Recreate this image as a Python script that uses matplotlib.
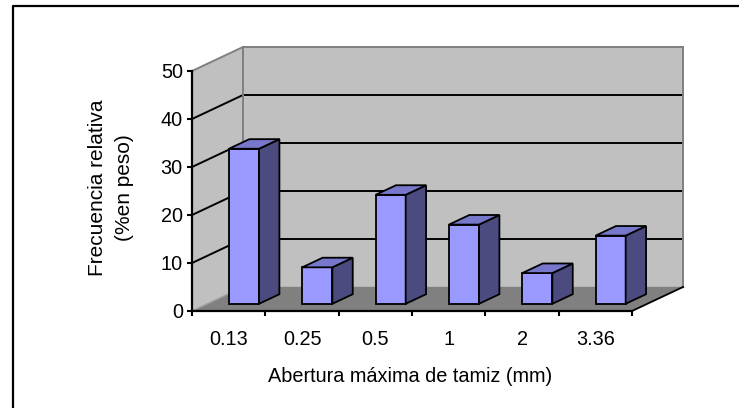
import matplotlib
matplotlib.use("Agg")
import matplotlib.pyplot as plt
from matplotlib.patches import Polygon
from matplotlib.lines import Line2D

# ---- data ----
categories = ["0.13", "0.25", "0.5", "1", "2", "3.36"]
values = [32.3, 7.6, 22.7, 16.5, 6.4, 14.2]
y_ticks = [0, 10, 20, 30, 40, 50]
x_title = "Abertura máxima de tamiz (mm)"
y_title = "Frecuencia relativa\n(%en peso)"

# ---- style ----
W, H, DPI = 739, 408, 100
FONT = "Liberation Sans"
FS = 14.3
FS_Y = 15.0
DX = 51 / 73.33      # depth offset in category units
DY = 5.0             # depth offset in value units
BAR_W = 0.41         # bar width (category units)
F0, FD = 0.3, 0.4    # bar front position / thickness as fraction of depth
FRONT = "#9999FF"
SIDE = "#4B4B80"
TOP = "#7777CC"
WALL = "#C0C0C0"
FLOOR = "#808080"
EDGE = "#808080"

plt.rcParams["font.family"] = [FONT, "DejaVu Sans"]

fig = plt.figure(figsize=(W / DPI, H / DPI), dpi=DPI)
fig.patch.set_facecolor("white")

# front plane: x 192..632 px, y(0)=311 px, y(50)=71 px
ax = fig.add_axes([192 / W, (H - 311) / H, (632 - 192) / W, 240 / H])
ax.set_facecolor("none")
n = len(categories)
ymax = y_ticks[-1]
ax.set_xlim(0, n)
ax.set_ylim(0, ymax)

def poly(pts, fc, ec="none", lw=0.0, z=1):
    p = Polygon(pts, closed=True, facecolor=fc, edgecolor=ec, linewidth=lw,
                clip_on=False, zorder=z, joinstyle="miter")
    ax.add_patch(p)

def line(xs, ys, c, lw, z=2):
    ax.add_line(Line2D(xs, ys, color=c, linewidth=lw, clip_on=False, zorder=z))

# walls and floor
poly([(DX, DY), (n + DX, DY), (n + DX, ymax + DY), (DX, ymax + DY)], WALL, z=0.5)
poly([(0, 0), (DX, DY), (DX, ymax + DY), (0, ymax)], WALL, z=0.5)
poly([(0, 0), (n, 0), (n + DX, DY), (DX, DY)], FLOOR, z=0.6)

# gridlines
for v in y_ticks[1:-1]:
    line([DX, n + DX], [v + DY, v + DY], "black", 1.4)
    line([0, DX], [v, v + DY], "black", 1.4)

# wall edges
line([DX, n + DX], [ymax + DY, ymax + DY], EDGE, 1.4)
line([0, DX], [ymax, ymax + DY], EDGE, 1.4)
line([DX, DX], [DY, ymax + DY], EDGE, 1.4)
line([n + DX, n + DX], [DY, ymax + DY], EDGE, 1.4)
line([DX, n + DX], [DY, DY], EDGE, 1.0)
line([0, DX], [0, DY], "#A0A0A0", 1.0)
line([n, n + DX], [0, DY], "black", 1.3)

# bars
for i, v in enumerate(values):
    a = i + (1 - BAR_W) / 2 + F0 * DX
    b = a + BAR_W
    y0 = F0 * DY
    ddx, ddy = FD * DX, FD * DY
    poly([(a, y0), (b, y0), (b, v + y0), (a, v + y0)], FRONT, "black", 1.3, z=3)
    poly([(b, y0), (b + ddx, y0 + ddy), (b + ddx, v + y0 + ddy), (b, v + y0)],
         SIDE, "black", 1.3, z=3)
    poly([(a, v + y0), (b, v + y0), (b + ddx, v + y0 + ddy), (a + ddx, v + y0 + ddy)],
         TOP, "black", 1.3, z=3)

# axes
for s in ["top", "right"]:
    ax.spines[s].set_visible(False)
for s in ["left", "bottom"]:
    ax.spines[s].set_linewidth(1.6)
    ax.spines[s].set_color("black")
    ax.spines[s].set_zorder(4)

ax.set_yticks(y_ticks)
ax.set_yticklabels([str(t) for t in y_ticks])
ax.set_xticks(range(n + 1))
ax.set_xticklabels([])
ax.set_xticks([i + 0.5 for i in range(n)], minor=True)
ax.set_xticklabels(categories, minor=True)
ax.tick_params(axis="both", which="major", direction="out", length=3.6,
               width=1.5, color="black", labelsize=FS, pad=3)
ax.tick_params(axis="x", which="minor", length=0, labelsize=FS, pad=14)

# titles
fig.text(111 / W, (H - 188) / H, y_title, rotation=90, ha="center", va="center",
         multialignment="center", fontsize=FS_Y, linespacing=1.55)
fig.text(410 / W, (H - 377) / H, x_title, ha="center", va="center", fontsize=FS)

# chart area border (top and left visible)
bx = 12.5 / W
by = (H - 5.5) / H
fig.add_artist(Line2D([bx, bx, 1.0], [0.0, by, by], transform=fig.transFigure,
                      color="black", linewidth=1.6))

fig.savefig("out.png", dpi=DPI)
